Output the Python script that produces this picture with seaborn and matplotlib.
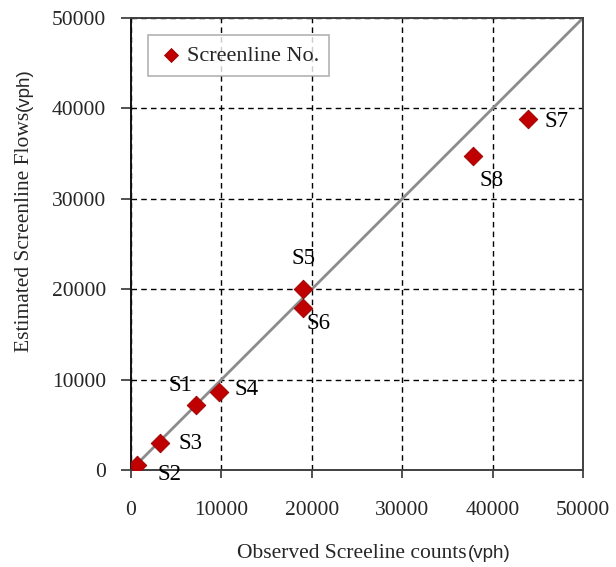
import matplotlib
matplotlib.use("Agg")
import matplotlib.pyplot as plt
import seaborn as sns
import pandas as pd

# Screenline comparison: observed counts vs. estimated flows (vph)
screenlines = ["S1", "S2", "S3", "S4", "S5", "S6", "S7", "S8"]
observed = [7200, 650, 3250, 9750, 19000, 19000, 43900, 37800]
estimated = [7200, 550, 3000, 8650, 20000, 17900, 38800, 34700]
ticks = [0, 10000, 20000, 30000, 40000, 50000]

df = pd.DataFrame({"screenline": screenlines, "observed": observed,
                   "estimated": estimated})

# label placement around each point, in pixels
label_offsets = {"S1": (-16, 19), "S2": (33, -9), "S3": (30, -1),
                 "S4": (27, 2), "S5": (1, 31), "S6": (16, -15),
                 "S7": (29, -2), "S8": (19, -24)}

sns.set_theme(style="white")
plt.rcParams["font.family"] = ["Liberation Serif", "DejaVu Serif"]

W, H, DPI = 616, 567, 100
fig = plt.figure(figsize=(W / DPI, H / DPI), dpi=DPI)
L, R, T, B = 131, 583, 18, 470
ax = fig.add_axes([L / W, 1 - B / H, (R - L) / W, (B - T) / H])

lo, hi = ticks[0], ticks[-1]
ax.plot([lo, hi], [lo, hi], color="#8c8c8c", lw=2, zorder=2)

sns.scatterplot(data=df, x="observed", y="estimated", ax=ax, marker="D",
                s=90, color="#c00000", edgecolor="#9a0000", linewidth=0.6,
                label="Screenline No.", zorder=3)

for name, xv, yv in zip(screenlines, observed, estimated):
    dx, dy = label_offsets[name]
    ax.annotate(name, (xv, yv), xytext=(dx, dy), textcoords="offset pixels",
                ha="center", va="center", fontsize=16.5, color="black",
                zorder=4)

ax.set_xlim(lo, hi)
ax.set_ylim(lo, hi)
ax.set_xticks(ticks)
ax.set_yticks(ticks)
ax.set_xticklabels([str(t) for t in ticks])
ax.set_yticklabels([str(t) for t in ticks])
ax.tick_params(axis="x", direction="out", length=6, width=1.2, pad=16,
               labelsize=15.5, color="#333333", bottom=True)
ax.tick_params(axis="y", direction="out", length=7, width=1.2, pad=11,
               labelsize=15.5, color="#333333", left=True)
ax.set_xlabel("")
ax.set_ylabel("")

ax.grid(True, color="black", linestyle=(0, (4, 3)), linewidth=1.0, zorder=1)
ax.set_axisbelow(True)
for side in ["left", "bottom", "top", "right"]:
    ax.spines[side].set_visible(True)
    ax.spines[side].set_color("#404040")
    ax.spines[side].set_linewidth(1.4)
ax.spines["left"].set_color("#111111")

leg = ax.legend(loc="upper left", bbox_to_anchor=(17 / 452, 1 - 17 / 452),
                borderaxespad=0, frameon=True, fancybox=False,
                fontsize=16, handletextpad=0.1, borderpad=0.45,
                handlelength=1.2, markerscale=0.75)
leg.get_frame().set_edgecolor("#a0a0a0")
leg.get_frame().set_linewidth(1.2)

# axis titles: serif words followed by a sans "(vph)" unit, sharing a baseline
fig.canvas.draw()
renderer = fig.canvas.get_renderer()
sans = ["Liberation Sans", "DejaVu Sans"]
xl = fig.text(237 / W, 1 - 558 / H, "Observed Screeline counts",
              ha="left", va="baseline", fontsize=15.5)
ext = xl.get_window_extent(renderer)
fig.text(ext.x1 / W + 1 / W, 1 - 558 / H, "(vph)", ha="left",
         va="baseline", fontsize=13.5, family=sans)

yl = fig.text(29 / W, 1 - 352 / H, "Estimated Screenline Flows",
              rotation=90, rotation_mode="anchor", ha="left",
              va="baseline", fontsize=15.5)
ext = yl.get_window_extent(renderer)
fig.text(29 / W, ext.y1 / H + 1 / H, "(vph)", rotation=90,
         rotation_mode="anchor", ha="left", va="baseline",
         fontsize=13.5, family=sans)

fig.savefig("out.png", dpi=DPI, facecolor="white")
